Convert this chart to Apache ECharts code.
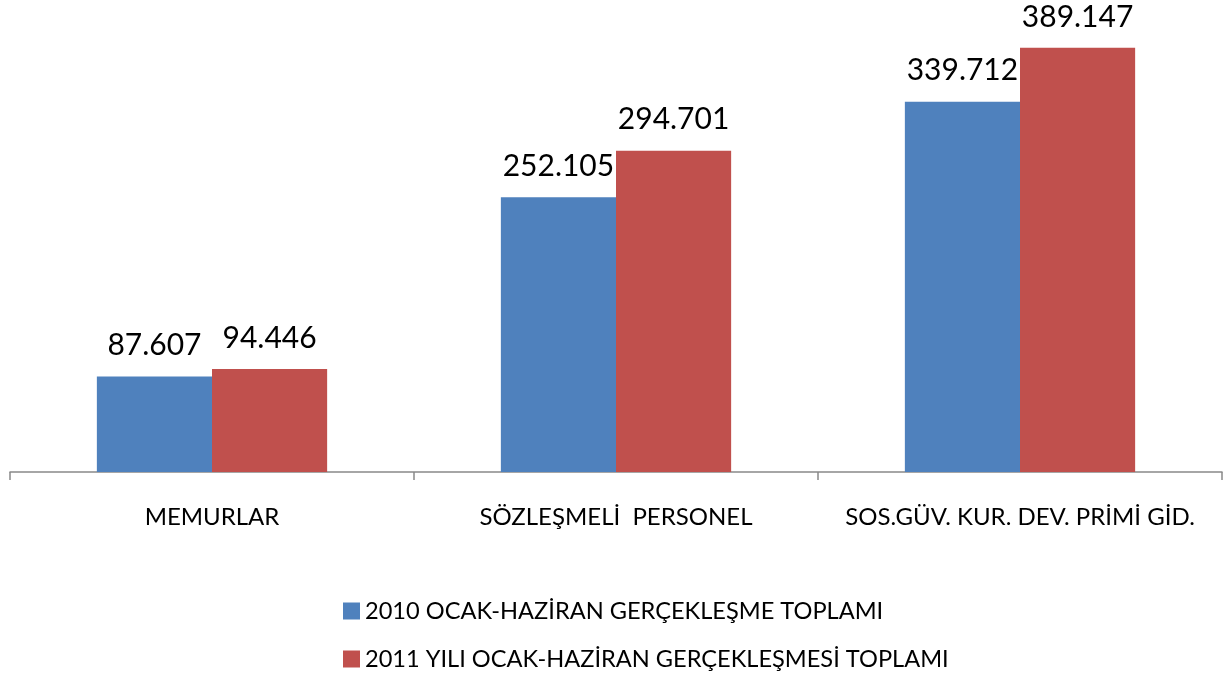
<!DOCTYPE html>
<html><head><meta charset="utf-8">
<script src="https://cdn.jsdelivr.net/npm/echarts@6/dist/echarts.min.js"></script>
<style>html,body{margin:0;padding:0;background:#fff}#c{width:1224px;height:675px}</style>
</head><body><div id="c"></div>
<script>
const categories = ['MEMURLAR', 'SÖZLEŞMELİ  PERSONEL', 'SOS.GÜV. KUR. DEV. PRİMİ GİD.'];
const series2010 = [87.607, 252.105, 339.712];
const series2011 = [94.446, 294.701, 389.147];
const seriesNames = ['2010 OCAK-HAZİRAN GERÇEKLEŞME TOPLAMI', '2011 YILI OCAK-HAZİRAN GERÇEKLEŞMESİ TOPLAMI'];
const FONT = 'Lato, "Open Sans", sans-serif';
const chart = echarts.init(document.getElementById('c'));
const label = {show: true, position: 'top', distance: 16, color: '#000', fontSize: 30, fontFamily: FONT,
  formatter: p => p.value.toFixed(3)};
const legendBase = {left: 338, itemWidth: 17, itemHeight: 17, itemGap: 6, icon: 'rect',
  textStyle: {fontSize: 23.6, fontFamily: FONT, color: '#000'}};
chart.setOption({
  animation: false,
  grid: {left: 10, right: 2, top: 36, bottom: 203, containLabel: false},
  legend: [
    Object.assign({}, legendBase, {top: 594, data: [seriesNames[0]]}),
    Object.assign({}, legendBase, {top: 642, data: [seriesNames[1]]})
  ],
  xAxis: {type: 'category', data: categories,
    axisLine: {lineStyle: {color: '#898989', width: 1.5}},
    axisTick: {show: true, length: 8, lineStyle: {color: '#898989', width: 1.5}},
    axisLabel: {margin: 33, fontSize: 24, fontFamily: FONT, color: '#000', interval: 0, hideOverlap: false}},
  yAxis: {type: 'value', min: 0, max: 400, show: false, splitLine: {show: false}},
  series: [
    {name: seriesNames[0], type: 'bar', data: series2010, barGap: '0%', barCategoryGap: '43%',
      itemStyle: {color: '#4f81bd'}, label},
    {name: seriesNames[1], type: 'bar', data: series2011, barGap: '0%', barCategoryGap: '43%',
      itemStyle: {color: '#c0504d'}, label}
  ]
});
</script></body></html>
